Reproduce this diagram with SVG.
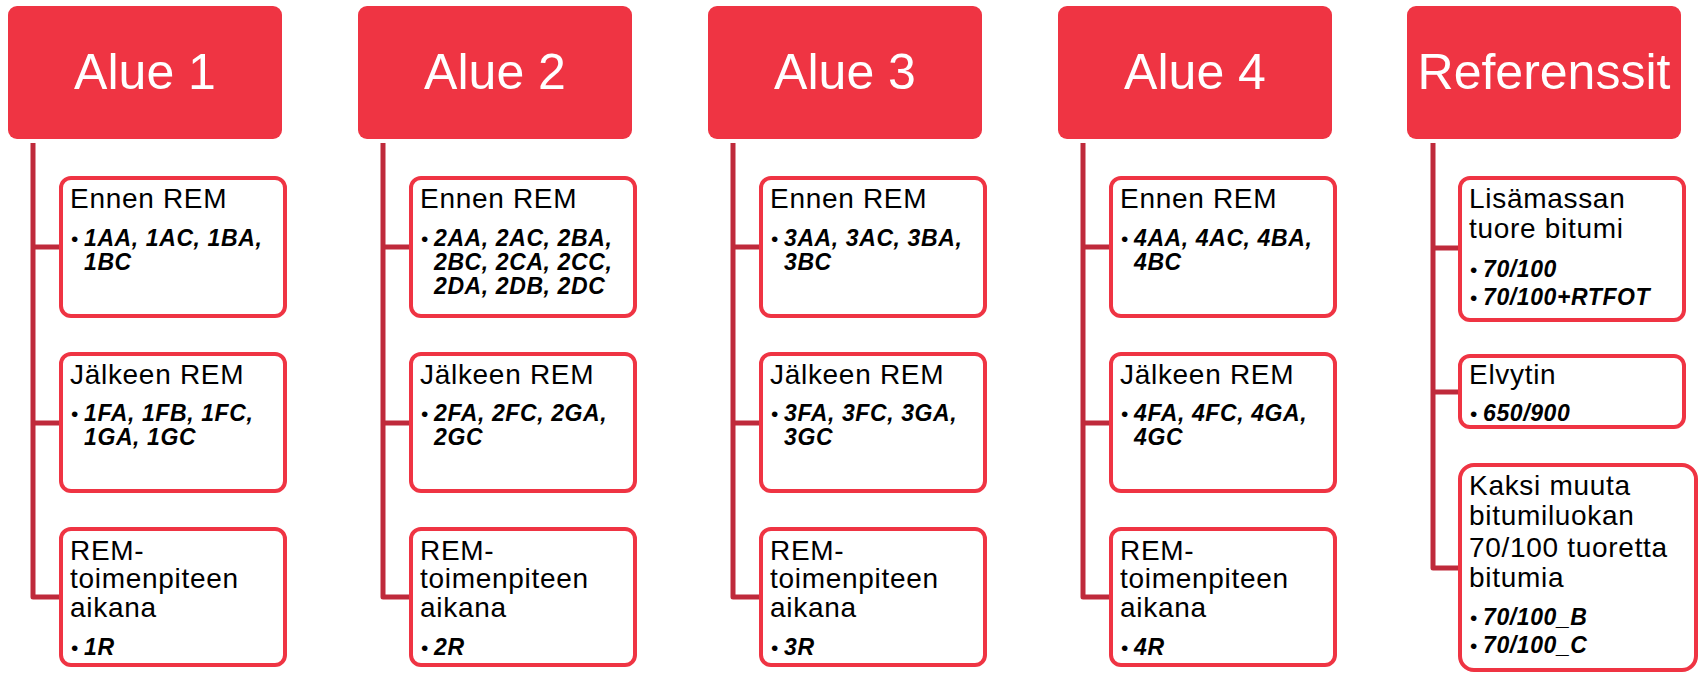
<svg xmlns="http://www.w3.org/2000/svg" width="1699" height="673" viewBox="0 0 1699 673">
<style>
.hdr{fill:#EF3443;}
.ht{font-family:"Liberation Sans",Arial,sans-serif;font-size:50px;fill:#fff;text-anchor:middle;}
.box{fill:#fff;stroke:#EF3443;stroke-width:4;}
.t{font-family:"Liberation Sans",Arial,sans-serif;font-size:28px;letter-spacing:0.7px;fill:#000;}
.b{font-family:"Liberation Sans",Arial,sans-serif;font-size:23px;font-weight:bold;font-style:italic;letter-spacing:0.6px;fill:#000;}
.d{font-weight:normal;font-style:normal;font-size:21px;letter-spacing:0;}
.con{fill:none;stroke:#BF2A3B;stroke-width:5;stroke-linejoin:round;}
</style>
<rect width="1699" height="673" fill="#fff"/>
<g id="connectors">
<path class="con" d="M33 143 V597 H61 M33 247 H61 M33 423 H61"/>
<path class="con" d="M383 143 V597 H411 M383 247 H411 M383 423 H411"/>
<path class="con" d="M733 143 V597 H761 M733 247 H761 M733 423 H761"/>
<path class="con" d="M1083 143 V597 H1111 M1083 247 H1111 M1083 423 H1111"/>
<path class="con" d="M1433 143 V568 H1460 M1433 248 H1460 M1433 392 H1460"/>
</g>
<g id="alue1">
<rect class="hdr" x="8" y="6" width="274" height="133" rx="9"/>
<text class="ht" x="145" y="89">Alue 1</text>
</g>
<g id="alue1-ennen">
<rect class="box" x="61" y="178" width="224" height="138" rx="10"/>
<text class="t" x="70" y="208">Ennen REM</text>
<text class="b" y="246"><tspan class="d" x="71">•</tspan><tspan x="84">1AA, 1AC, 1BA,</tspan></text>
<text class="b" x="84" y="270">1BC</text>
</g>
<g id="alue1-jalkeen">
<rect class="box" x="61" y="354" width="224" height="137" rx="10"/>
<text class="t" x="70" y="384">Jälkeen REM</text>
<text class="b" y="421"><tspan class="d" x="71">•</tspan><tspan x="84">1FA, 1FB, 1FC,</tspan></text>
<text class="b" x="84" y="445">1GA, 1GC</text>
</g>
<g id="alue1-aikana">
<rect class="box" x="61" y="529" width="224" height="136" rx="10"/>
<text class="t" x="70" y="560">REM-</text>
<text class="t" x="70" y="588">toimenpiteen</text>
<text class="t" x="70" y="617">aikana</text>
<text class="b" y="655"><tspan class="d" x="71">•</tspan><tspan x="84">1R</tspan></text>
</g>
<g id="alue2">
<rect class="hdr" x="358" y="6" width="274" height="133" rx="9"/>
<text class="ht" x="495" y="89">Alue 2</text>
</g>
<g id="alue2-ennen">
<rect class="box" x="411" y="178" width="224" height="138" rx="10"/>
<text class="t" x="420" y="208">Ennen REM</text>
<text class="b" y="246"><tspan class="d" x="421">•</tspan><tspan x="434">2AA, 2AC, 2BA,</tspan></text>
<text class="b" x="434" y="270">2BC, 2CA, 2CC,</text>
<text class="b" x="434" y="294">2DA, 2DB, 2DC</text>
</g>
<g id="alue2-jalkeen">
<rect class="box" x="411" y="354" width="224" height="137" rx="10"/>
<text class="t" x="420" y="384">Jälkeen REM</text>
<text class="b" y="421"><tspan class="d" x="421">•</tspan><tspan x="434">2FA, 2FC, 2GA,</tspan></text>
<text class="b" x="434" y="445">2GC</text>
</g>
<g id="alue2-aikana">
<rect class="box" x="411" y="529" width="224" height="136" rx="10"/>
<text class="t" x="420" y="560">REM-</text>
<text class="t" x="420" y="588">toimenpiteen</text>
<text class="t" x="420" y="617">aikana</text>
<text class="b" y="655"><tspan class="d" x="421">•</tspan><tspan x="434">2R</tspan></text>
</g>
<g id="alue3">
<rect class="hdr" x="708" y="6" width="274" height="133" rx="9"/>
<text class="ht" x="845" y="89">Alue 3</text>
</g>
<g id="alue3-ennen">
<rect class="box" x="761" y="178" width="224" height="138" rx="10"/>
<text class="t" x="770" y="208">Ennen REM</text>
<text class="b" y="246"><tspan class="d" x="771">•</tspan><tspan x="784">3AA, 3AC, 3BA,</tspan></text>
<text class="b" x="784" y="270">3BC</text>
</g>
<g id="alue3-jalkeen">
<rect class="box" x="761" y="354" width="224" height="137" rx="10"/>
<text class="t" x="770" y="384">Jälkeen REM</text>
<text class="b" y="421"><tspan class="d" x="771">•</tspan><tspan x="784">3FA, 3FC, 3GA,</tspan></text>
<text class="b" x="784" y="445">3GC</text>
</g>
<g id="alue3-aikana">
<rect class="box" x="761" y="529" width="224" height="136" rx="10"/>
<text class="t" x="770" y="560">REM-</text>
<text class="t" x="770" y="588">toimenpiteen</text>
<text class="t" x="770" y="617">aikana</text>
<text class="b" y="655"><tspan class="d" x="771">•</tspan><tspan x="784">3R</tspan></text>
</g>
<g id="alue4">
<rect class="hdr" x="1058" y="6" width="274" height="133" rx="9"/>
<text class="ht" x="1195" y="89">Alue 4</text>
</g>
<g id="alue4-ennen">
<rect class="box" x="1111" y="178" width="224" height="138" rx="10"/>
<text class="t" x="1120" y="208">Ennen REM</text>
<text class="b" y="246"><tspan class="d" x="1121">•</tspan><tspan x="1134">4AA, 4AC, 4BA,</tspan></text>
<text class="b" x="1134" y="270">4BC</text>
</g>
<g id="alue4-jalkeen">
<rect class="box" x="1111" y="354" width="224" height="137" rx="10"/>
<text class="t" x="1120" y="384">Jälkeen REM</text>
<text class="b" y="421"><tspan class="d" x="1121">•</tspan><tspan x="1134">4FA, 4FC, 4GA,</tspan></text>
<text class="b" x="1134" y="445">4GC</text>
</g>
<g id="alue4-aikana">
<rect class="box" x="1111" y="529" width="224" height="136" rx="10"/>
<text class="t" x="1120" y="560">REM-</text>
<text class="t" x="1120" y="588">toimenpiteen</text>
<text class="t" x="1120" y="617">aikana</text>
<text class="b" y="655"><tspan class="d" x="1121">•</tspan><tspan x="1134">4R</tspan></text>
</g>
<g id="referenssit">
<rect class="hdr" x="1407" y="6" width="274" height="133" rx="9"/>
<text class="ht" x="1544" y="89">Referenssit</text>
</g>
<g id="ref-lisamassa">
<rect class="box" x="1460" y="178" width="224" height="142" rx="10"/>
<text class="t" x="1469" y="208">Lisämassan</text>
<text class="t" x="1469" y="238">tuore bitumi</text>
<text class="b" y="277"><tspan class="d" x="1470">•</tspan><tspan x="1483">70/100</tspan></text>
<text class="b" y="305"><tspan class="d" x="1470">•</tspan><tspan x="1483">70/100+RTFOT</tspan></text>
</g>
<g id="ref-elvytin">
<rect class="box" x="1460" y="356" width="224" height="71" rx="10"/>
<text class="t" x="1469" y="384">Elvytin</text>
<text class="b" y="421"><tspan class="d" x="1470">•</tspan><tspan x="1483">650/900</tspan></text>
</g>
<g id="ref-kaksi">
<rect class="box" x="1460" y="465" width="236" height="205" rx="14"/>
<text class="t" x="1469" y="495">Kaksi muuta</text>
<text class="t" x="1469" y="525">bitumiluokan</text>
<text class="t" x="1469" y="557">70/100 tuoretta</text>
<text class="t" x="1469" y="587">bitumia</text>
<text class="b" y="625"><tspan class="d" x="1470">•</tspan><tspan x="1483">70/100_B</tspan></text>
<text class="b" y="653"><tspan class="d" x="1470">•</tspan><tspan x="1483">70/100_C</tspan></text>
</g>
</svg>
